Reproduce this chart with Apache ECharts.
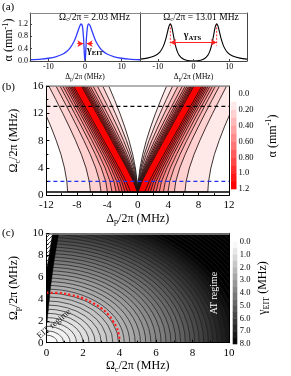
<!DOCTYPE html>
<html>
<head>
<meta charset="utf-8">
<script src="https://cdn.jsdelivr.net/npm/echarts@6/dist/echarts.min.js"></script>
<style>
html,body{margin:0;padding:0;background:#fff;}
#chart{width:291px;height:376px;}
</style>
</head>
<body>
<div id="chart"></div>
<script>
// ---------------- Panel (a) ----------------
const A_X_TICKS = [-10, 0, 10];
const A_Y_TICKS = [0, 0.4, 0.8, 1.2];
const EIT_DELTA = [-15,-12,-10,-8,-6,-5,-4,-3,-2.5,-2,-1.6,-1.3,-1.1,-1.0,-0.8,-0.6,-0.4,-0.3,-0.2,-0.1,0,0.1,0.2,0.3,0.4,0.6,0.8,1.0,1.1,1.3,1.6,2,2.5,3,4,5,6,8,10,12,15];
const EIT_ALPHA = [0.041,0.063,0.089,0.135,0.225,0.305,0.431,0.631,0.771,0.936,1.075,1.162,1.196,1.2,1.165,1.035,0.748,0.533,0.291,0.084,0,0.084,0.291,0.533,0.748,1.035,1.165,1.2,1.196,1.162,1.075,0.936,0.771,0.631,0.431,0.305,0.225,0.135,0.089,0.063,0.041];
const ATS_DELTA = [-15,-13,-11,-9.5,-8.5,-7.8,-7.3,-7.0,-6.8,-6.5,-6.2,-6.0,-5.7,-5.3,-5.0,-4.5,-4.0,-3,-2,-1,0,1,2,3,4,4.5,5,5.3,5.7,6,6.2,6.5,6.8,7,7.3,7.8,8.5,9.5,11,13,15];
const ATS_ALPHA = [0.060,0.092,0.159,0.282,0.464,0.697,0.931,1.074,1.151,1.2,1.143,1.052,0.871,0.626,0.475,0.295,0.184,0.072,0.025,0.006,0.002,0.006,0.025,0.072,0.184,0.295,0.475,0.626,0.871,1.052,1.143,1.2,1.151,1.074,0.931,0.697,0.464,0.282,0.159,0.092,0.060];
const A_TITLES = ['2.03', '13.01'];
const EIT_ARROW = {alpha: 0.56, from: 2.1, to: 0.45};
const ATS_MARK = {delta: 6.5, top: 1.2, bottom: 0.5, arrowAlpha: 0.6};

// ---------------- Panel (b) ----------------
const B_X_TICKS = [-12, -8, -4, 0, 4, 8, 12];
const B_Y_TICKS = [0, 4, 8, 12, 16];
const B_ROWS = [0.5, 2, 4, 6, 8, 10, 12, 14, 16];          // Omega_c rows
const B_LEVELS = [0.1,0.2,0.3,0.4,0.5,0.6,0.7,0.8,0.9,1.0,1.1];
const B_MAX = 1.2;
// left-half contour positions (Delta_p) on the outer side of the absorption peak
const B_OUTER = [
 [-9.21,-9.31,-9.62,-10.09,-10.70,-11.39,-12.16,-12.98,-13.83],
 [-6.21,-6.36,-6.79,-7.41,-8.16,-8.98,-9.85,-10.76,-11.68],
 [-4.82,-5.00,-5.52,-6.24,-7.07,-7.95,-8.86,-9.80,-10.75],
 [-3.98,-4.20,-4.79,-5.57,-6.44,-7.36,-8.30,-9.25,-10.22],
 [-3.38,-3.63,-4.28,-5.11,-6.01,-6.95,-7.90,-8.87,-9.85],
 [-2.83,-3.12,-3.84,-4.71,-5.64,-6.59,-7.56,-8.54,-9.52],
 [-2.41,-2.74,-3.51,-4.41,-5.36,-6.32,-7.30,-8.28,-9.27],
 [-2.02,-2.40,-3.22,-4.15,-5.11,-6.09,-7.07,-8.06,-9.05],
 [-1.67,-2.10,-2.97,-3.92,-4.89,-5.88,-6.86,-7.86,-8.85],
 [-1.32,-1.80,-2.72,-3.69,-4.67,-5.66,-6.66,-7.65,-8.65],
 [-0.94,-1.50,-2.46,-3.45,-4.44,-5.44,-6.43,-7.43,-8.43]
];
// left-half contour positions on the inner side (towards Delta_p = 0)
const B_INNER = [
 [-0.01,-0.08,-0.30,-0.66,-1.13,-1.70,-2.34,-3.05,-3.80],
 [-0.01,-0.10,-0.41,-0.88,-1.48,-2.18,-2.94,-3.75,-4.60],
 [-0.02,-0.14,-0.54,-1.13,-1.85,-2.65,-3.50,-4.39,-5.30],
 [-0.02,-0.19,-0.70,-1.41,-2.22,-3.09,-4.00,-4.93,-5.88],
 [-0.02,-0.24,-0.83,-1.61,-2.47,-3.39,-4.32,-5.28,-6.25],
 [-0.03,-0.28,-0.93,-1.76,-2.66,-3.60,-4.55,-5.52,-6.50],
 [-0.03,-0.32,-1.04,-1.91,-2.84,-3.79,-4.76,-5.74,-6.72],
 [-0.04,-0.37,-1.14,-2.04,-2.99,-3.95,-4.93,-5.91,-6.90],
 [-0.04,-0.42,-1.24,-2.17,-3.13,-4.11,-5.09,-6.08,-7.07],
 [-0.05,-0.48,-1.35,-2.30,-3.27,-4.26,-5.24,-6.24,-7.23],
 [-0.07,-0.55,-1.47,-2.44,-3.42,-4.41,-5.41,-6.40,-7.40]
];
const B_HLINES = [0.5, 2.03, 13.01];
const CB_B_TICKS = [0, 0.2, 0.4, 0.6, 0.8, 1.0, 1.2];
const CB_B_LABELS = ['0.0', '0.20', '0.40', '0.60', '0.80', '1.0', '1.2'];

// ---------------- Panel (c) ----------------
const C_TICKS = [0, 2, 4, 6, 8, 10];
const C_A = [0.6,0.95,1.3,1.65,2.0,2.34,2.67,3.0,3.32,3.64,3.95,4.26,4.56,4.86,5.15,5.44,5.72,6.0,6.28,6.55,6.82,7.09,7.35,7.61,7.87,8.12,8.37,8.62,8.87,9.11,9.35,9.59,9.83,10.06,10.29,10.52,10.75,10.98,11.2,11.42,11.64,11.86,12.08,12.3,12.52,12.74,12.96,13.18,13.4];
const C_B = [0.69,1.09,1.5,1.9,2.3,2.69,3.07,3.45,3.82,4.19,4.54,4.9,5.24,5.59,5.92,6.26,6.58,6.9,7.22,7.53,7.84,8.15,8.45,8.75,9.05,9.34,9.63,9.91,10.2,10.48,10.75,11.03,11.3,11.57,11.83,12.1,12.36,12.63,12.88,13.13,13.39,13.64,13.89,14.15,14.4,14.65,14.9,15.16,15.41];
const C_GAMMA = [0.19,0.34,0.52,0.71,0.91,1.11,1.32,1.53,1.75,1.98,2.19,2.42,2.64,2.87,3.10,3.33,3.55,3.78,4.01,4.24,4.46,4.70,4.92,5.15,5.38,5.60,5.83,6.05,6.29,6.51,6.73,6.95,7.18,7.40,7.62,7.84,8.06,8.28,8.50,8.72,8.94,9.16,9.38,9.60,9.82,10.04,10.26,10.48,10.70];
const C_RED_DOTS = [[0,4.57],[0.6,4.55],[1.35,4.36],[2,4.05],[2.55,3.62],[3,3.15],[3.4,2.55],[3.65,1.95],[3.83,1.45],[3.95,0.85],[4.0,0.35]];
const C_BLACK_BAND = [[0,1.8],[0,6.5],[0.34,10],[0.67,10],[0.42,7.5],[0.22,5],[0.1,3],[0.03,1.8]];
const C_HATCH = [[0,6.5],[0,10],[0.34,10]];
const CB_C_EDGES = [0,0.5,1,1.5,2,2.5,3,3.5,4,4.5,5,5.5,6,6.5,7,7.5,8];
const CB_C_TICKS = [0,1,2,3,4,5,6,7,8];

// ---------------- helpers ----------------
const FONT = '"Liberation Serif", "DejaVu Serif", serif';
function rich(fs, color, weight) {
  color = color || '#000';
  const s = Math.round(fs * 0.68 * 10) / 10;
  const w = weight || 'normal';
  return {
    m: {fontFamily: FONT, fontSize: fs, lineHeight: fs + 3, verticalAlign: 'middle', color, fontWeight: w},
    s: {fontFamily: FONT, fontSize: s, lineHeight: s, verticalAlign: 'bottom', color, fontWeight: w},
    u: {fontFamily: FONT, fontSize: s, lineHeight: s, verticalAlign: 'top', color, fontWeight: w}
  };
}
function bColor(i) {
  const f = (i + 1) / B_LEVELS.length;
  const g = Math.round(255 * (1 - f));
  return 'rgb(255,' + g + ',' + g + ')';
}
function gray(v) {
  const t = Math.min(Math.max(v / 8, 0), 1);
  const g = Math.round(255 * (1 - t));
  return 'rgb(' + g + ',' + g + ',' + g + ')';
}
const lineOf = (c, w) => ({show: true, onZero: false, lineStyle: {color: c, width: w}});
function frame(grid, pos, color, width) {
  return {type: 'value', gridIndex: grid, position: pos, min: 0, max: 1, z: 10,
    axisLine: lineOf(color, width), axisTick: {show: false}, axisLabel: {show: false}, splitLine: {show: false}};
}
function hidden(grid) {
  return {type: 'value', gridIndex: grid, show: false, min: 0, max: 1, splitLine: {show: false}};
}
const labelStyle = (fs, margin) => ({fontFamily: FONT, fontSize: fs, color: '#000', margin});

// hatch pattern
const hc = document.createElement('canvas');
hc.width = 4; hc.height = 4;
const hctx = hc.getContext('2d');
hctx.fillStyle = '#fff'; hctx.fillRect(0, 0, 4, 4);
hctx.strokeStyle = '#000'; hctx.lineWidth = 0.7;
hctx.beginPath();
hctx.moveTo(0, 4); hctx.lineTo(4, 0);
hctx.moveTo(-1, 1); hctx.lineTo(1, -1);
hctx.moveTo(3, 5); hctx.lineTo(5, 3);
hctx.stroke();

const chart = echarts.init(document.getElementById('chart'), null, {renderer: 'canvas'});

const xAxis = [
  {type: 'value', gridIndex: 0, position: 'bottom', min: -15, max: 15, z: 10, axisLine: lineOf('#444', 1), splitLine: {show: false},
   axisTick: {inside: true, length: 2, customValues: A_X_TICKS, lineStyle: {color: '#444'}},
   axisLabel: Object.assign({customValues: A_X_TICKS}, labelStyle(8, 1.5)),
   name: '{m|Δ}{s|p}{m|/2π (MHz)}', nameLocation: 'middle', nameGap: 11, nameTextStyle: {rich: rich(7.5)}},
  frame(0, 'top', '#888', 1),
  {type: 'value', gridIndex: 1, position: 'bottom', min: -15, max: 15, z: 10, axisLine: lineOf('#444', 1), splitLine: {show: false},
   axisTick: {inside: true, length: 2, customValues: A_X_TICKS, lineStyle: {color: '#444'}},
   axisLabel: Object.assign({customValues: A_X_TICKS}, labelStyle(8, 1.5)),
   name: '{m|Δ}{s|p}{m|/2π (MHz)}', nameLocation: 'middle', nameGap: 11, nameTextStyle: {rich: rich(7.5)}},
  frame(1, 'top', '#888', 1),
  {type: 'value', gridIndex: 2, position: 'bottom', min: B_X_TICKS[0], max: B_X_TICKS[B_X_TICKS.length - 1], interval: 4, z: 10,
   axisLine: lineOf('#000', 1), splitLine: {show: false},
   axisTick: {inside: true, length: 3, lineStyle: {color: '#000'}}, minorTick: {show: true, splitNumber: 2, length: 2, lineStyle: {color: '#000'}},
   axisLabel: labelStyle(11, 4),
   name: '{m|Δ}{s|p}{m|/2π (MHz)}', nameLocation: 'middle', nameGap: 16, nameTextStyle: {rich: rich(12)}},
  frame(2, 'top', '#999', 1.5),
  hidden(3),
  {type: 'value', gridIndex: 4, position: 'bottom', min: C_TICKS[0], max: C_TICKS[C_TICKS.length - 1], interval: 2, z: 10,
   axisLine: lineOf('#000', 1), splitLine: {show: false},
   axisTick: {inside: true, length: 3, lineStyle: {color: '#000'}}, minorTick: {show: true, splitNumber: 2, length: 2, lineStyle: {color: '#000'}},
   axisLabel: labelStyle(11, 5),
   name: '{m|Ω}{s|c}{m|/2π (MHz)}', nameLocation: 'middle', nameGap: 16, nameTextStyle: {rich: rich(12)}},
  frame(4, 'top', '#888', 1.5),
  hidden(5)
];

const yAxis = [
  {type: 'value', gridIndex: 0, position: 'left', min: 0, max: 1.55, z: 10, axisLine: lineOf('#444', 1), splitLine: {show: false},
   axisTick: {inside: true, length: 2, customValues: A_Y_TICKS, lineStyle: {color: '#444'}},
   axisLabel: Object.assign({customValues: A_Y_TICKS, formatter: v => v.toFixed(1)}, labelStyle(8, 2))},
  frame(0, 'right', '#444', 1),
  {type: 'value', gridIndex: 1, position: 'left', min: 0, max: 1.55, z: 10, axisLine: lineOf('#444', 1), splitLine: {show: false},
   axisTick: {show: false}, axisLabel: {show: false}},
  frame(1, 'right', '#444', 1),
  {type: 'value', gridIndex: 2, position: 'left', min: B_Y_TICKS[0], max: B_Y_TICKS[B_Y_TICKS.length - 1], interval: 4, z: 10,
   axisLine: lineOf('#000', 1), splitLine: {show: false},
   axisTick: {inside: true, length: 3, lineStyle: {color: '#000'}}, minorTick: {show: true, splitNumber: 2, length: 2, lineStyle: {color: '#000'}},
   axisLabel: labelStyle(11, 3),
   name: '{m|Ω}{s|c}{m|/2π (MHz)}', nameLocation: 'middle', nameGap: 15, nameRotate: 90, nameTextStyle: {rich: rich(12)}},
  frame(2, 'right', '#000', 1),
  {type: 'value', gridIndex: 3, position: 'right', min: 0, max: B_MAX, inverse: true,
   axisLine: {show: false}, axisTick: {show: false}, splitLine: {show: false},
   axisLabel: Object.assign({customValues: CB_B_TICKS, formatter: v => {
     const i = CB_B_TICKS.findIndex(t => Math.abs(t - v) < 1e-6); return i >= 0 ? CB_B_LABELS[i] : ''; }}, labelStyle(8.5, 2))},
  {type: 'value', gridIndex: 4, position: 'left', min: C_TICKS[0], max: C_TICKS[C_TICKS.length - 1], interval: 2, z: 10,
   axisLine: lineOf('#000', 1), splitLine: {show: false},
   axisTick: {inside: true, length: 3, lineStyle: {color: '#000'}}, minorTick: {show: true, splitNumber: 2, length: 2, lineStyle: {color: '#000'}},
   axisLabel: labelStyle(11, 3),
   name: '{m|Ω}{s|p}{m|/2π (MHz)}', nameLocation: 'middle', nameGap: 15, nameRotate: 90, nameTextStyle: {rich: rich(12)}},
  frame(4, 'right', '#000', 1),
  {type: 'value', gridIndex: 5, position: 'right', min: 0, max: 8, inverse: true,
   axisLine: {show: false}, axisTick: {show: false}, splitLine: {show: false},
   axisLabel: Object.assign({customValues: CB_C_TICKS, formatter: v => v.toFixed(1)}, labelStyle(8.5, 2.5))}
];

const grid = [
  {left: 30, top: 13, width: 110, height: 48},
  {left: 140, top: 13, width: 107, height: 48},
  {left: 33.3, top: 86, width: 195.7, height: 109.3},
  {left: 231, top: 94, width: 5.5, height: 95},
  {left: 33.7, top: 233.3, width: 195.3, height: 109.4},
  {left: 232.7, top: 241.7, width: 4.6, height: 102.3}
];

const series = [
  // (a) EIT curve
  {type: 'line', xAxisIndex: 0, yAxisIndex: 0, data: EIT_DELTA.map((d, i) => [d, EIT_ALPHA[i]]),
   symbol: 'none', smooth: 0.3, lineStyle: {color: '#2f3cff', width: 1.3}, z: 3,
   markLine: {silent: true, symbol: ['none', 'arrow'], symbolSize: [5, 6], label: {show: false},
     lineStyle: {color: '#ff2020', width: 1, type: 'solid'},
     data: [
       [{coord: [-EIT_ARROW.from, EIT_ARROW.alpha]}, {coord: [-EIT_ARROW.to, EIT_ARROW.alpha]}],
       [{coord: [EIT_ARROW.from, EIT_ARROW.alpha]}, {coord: [EIT_ARROW.to, EIT_ARROW.alpha]}]
     ]}},
  // (a) ATS curve
  {type: 'line', xAxisIndex: 2, yAxisIndex: 2, data: ATS_DELTA.map((d, i) => [d, ATS_ALPHA[i]]),
   symbol: 'none', smooth: 0.3, lineStyle: {color: '#000', width: 1.1}, z: 3,
   markLine: {silent: true, symbol: ['arrow', 'arrow'], symbolSize: [5, 6], label: {show: false},
     lineStyle: {color: '#ff2020', width: 1, type: 'solid'},
     data: [[{coord: [-ATS_MARK.delta, ATS_MARK.arrowAlpha]}, {coord: [ATS_MARK.delta, ATS_MARK.arrowAlpha]}]]}},
  {type: 'line', xAxisIndex: 2, yAxisIndex: 2, symbol: 'none', z: 2,
   data: [[-ATS_MARK.delta, ATS_MARK.top], [-ATS_MARK.delta, ATS_MARK.bottom]],
   lineStyle: {color: '#ff3030', width: 1, type: [2, 1.5]}},
  {type: 'line', xAxisIndex: 2, yAxisIndex: 2, symbol: 'none', z: 2,
   data: [[ATS_MARK.delta, ATS_MARK.top], [ATS_MARK.delta, ATS_MARK.bottom]],
   lineStyle: {color: '#ff3030', width: 1, type: [2, 1.5]}},
  // (b) filled contours
  {type: 'custom', xAxisIndex: 4, yAxisIndex: 4, clip: true, z: 2,
   data: B_LEVELS.flatMap((L, i) => [[i, 0], [i, 1]]),
   renderItem: function (params, api) {
     const idx = params.dataIndex, lv = Math.floor(idx / 2), mirror = idx % 2 === 1;
     const pts = [];
     for (let r = 0; r < B_ROWS.length; r++) {
       const v = B_OUTER[lv][r]; pts.push(api.coord([mirror ? -v : v, B_ROWS[r]]));
     }
     for (let r = B_ROWS.length - 1; r >= 0; r--) {
       const v = B_INNER[lv][r]; pts.push(api.coord([mirror ? -v : v, B_ROWS[r]]));
     }
     return {type: 'polygon', z2: lv, shape: {points: pts},
       style: {fill: bColor(lv), stroke: '#1c1010', lineWidth: 0.85}};
   }},
  {type: 'line', xAxisIndex: 4, yAxisIndex: 4, symbol: 'none', z: 4,
   data: [[-12, B_HLINES[0]], [12, B_HLINES[0]]], lineStyle: {color: '#000', width: 1.5}},
  {type: 'line', xAxisIndex: 4, yAxisIndex: 4, symbol: 'none', z: 4,
   data: [[-12, B_HLINES[1]], [12, B_HLINES[1]]], lineStyle: {color: '#2233ee', width: 1.2, type: [4, 3]}},
  {type: 'line', xAxisIndex: 4, yAxisIndex: 4, symbol: 'none', z: 4,
   data: [[-12, B_HLINES[2]], [12, B_HLINES[2]]], lineStyle: {color: '#000', width: 1.2, type: [4, 3]}},
  // (b) colorbar
  {type: 'custom', xAxisIndex: 6, yAxisIndex: 6,
   data: B_LEVELS.map((L, i) => [i, L]),
   renderItem: function (params, api) {
     const i = params.dataIndex, L = B_LEVELS[i];
     const hi = i + 1 < B_LEVELS.length ? B_LEVELS[i + 1] : B_MAX;
     const p0 = api.coord([0, L]), p1 = api.coord([1, hi]);
     return {type: 'rect', shape: {x: p0[0], y: p0[1], width: p1[0] - p0[0], height: p1[1] - p0[1] + 0.3},
       style: {fill: bColor(i)}};
   }},
  // (c) filled elliptical contours
  {type: 'custom', xAxisIndex: 7, yAxisIndex: 7, clip: true, z: 2,
   data: C_A.map((a, i) => [a, C_B[i]]),
   renderItem: function (params, api) {
     const n = C_A.length, i = n - 1 - params.dataIndex;
     const o = api.coord([0, 0]), ax = api.coord([C_A[i], 0]), by = api.coord([0, C_B[i]]);
     const rx = ax[0] - o[0], ry = o[1] - by[1];
     const g = i === 0 ? C_GAMMA[0] / 2 : (C_GAMMA[i - 1] + C_GAMMA[i]) / 2;
     const top = (o[1] - ry), right = (o[0] + rx);
     return {type: 'group', children: [
       {type: 'path', z2: params.dataIndex * 2,
        shape: {pathData: 'M' + o[0] + ' ' + o[1] + 'L' + o[0] + ' ' + top + 'A' + rx + ' ' + ry + ' 0 0 1 ' + right + ' ' + o[1] + 'Z'},
        style: {fill: gray(g), stroke: 'none'}},
       {type: 'path', z2: params.dataIndex * 2 + 1,
        shape: {pathData: 'M' + o[0] + ' ' + top + 'A' + rx + ' ' + ry + ' 0 0 1 ' + right + ' ' + o[1]},
        style: {fill: 'none', stroke: '#1c1c1c', lineWidth: 0.7}}
     ]};
   }},
  // (c) black band + hatched region
  {type: 'custom', xAxisIndex: 7, yAxisIndex: 7, clip: true, z: 3,
   data: [[0, 0], [0, 1]],
   renderItem: function (params, api) {
     if (params.dataIndex === 0) {
       return {type: 'polygon', shape: {points: C_BLACK_BAND.map(p => api.coord(p))}, style: {fill: '#000', stroke: '#000', lineWidth: 0.5}};
     }
     return {type: 'polygon', shape: {points: C_HATCH.map(p => api.coord(p))},
       style: {fill: {image: hc, repeat: 'repeat'}, stroke: '#000', lineWidth: 0.5}};
   }},
  {type: 'line', xAxisIndex: 7, yAxisIndex: 7, symbol: 'none', smooth: true, z: 4,
   data: C_RED_DOTS, lineStyle: {color: '#ff2020', width: 2.2, type: [2.2, 2.2]}},
  // (c) colorbar
  {type: 'custom', xAxisIndex: 9, yAxisIndex: 9,
   data: CB_C_EDGES.slice(0, -1).map((e, i) => [i, e]),
   renderItem: function (params, api) {
     const i = params.dataIndex, lo = CB_C_EDGES[i], hi = CB_C_EDGES[i + 1];
     const p0 = api.coord([0, lo]), p1 = api.coord([1, hi]);
     return {type: 'rect', shape: {x: p0[0], y: p0[1], width: p1[0] - p0[0], height: p1[1] - p0[1] + 0.3},
       style: {fill: gray((lo + hi) / 2)}};
   }}
];

function txt(x, y, text, opts) {
  opts = opts || {};
  return {type: 'text', x, y, rotation: opts.rot || 0, silent: true, z: 50,
    style: {text, rich: opts.rich, fontFamily: FONT, fontSize: opts.fs || 11, fill: opts.color || '#000',
      fontWeight: opts.weight || 'normal',
      align: opts.align || 'center', textAlign: opts.align || 'center',
      verticalAlign: 'middle', textVerticalAlign: 'middle'}};
}

const graphic = [
  txt(2, 7, '(a)', {align: 'left', fs: 11}),
  txt(2, 87, '(b)', {align: 'left', fs: 11}),
  txt(2, 233, '(c)', {align: 'left', fs: 11}),
  txt(94.5, 17, '{m|Ω}{s|c}{m|/2π = ' + A_TITLES[0] + ' MHz}', {rich: rich(9.5)}),
  txt(201, 17, '{m|Ω}{s|c}{m|/2π = ' + A_TITLES[1] + ' MHz}', {rich: rich(9.5)}),
  txt(9, 40, '{m|α (mm}{u|-1}{m|)}', {rich: rich(12), rot: Math.PI / 2}),
  txt(87, 50, '{m|γ}{s|EIT}', {rich: rich(10, '#2f3cff', 'bold'), align: 'left'}),
  txt(192.5, 35, '{m|γ}{s|ATS}', {rich: rich(10, '#000', 'bold')}),
  txt(272.5, 136, '{m|α (mm}{u|-1}{m|)}', {rich: rich(12), rot: Math.PI / 2}),
  txt(263, 288, '{m|γ}{s|EIT}{m| (MHz)}', {rich: rich(12), rot: Math.PI / 2}),
  txt(54, 324, 'EIT regime', {fs: 9, color: '#222', rot: 40 * Math.PI / 180}),
  txt(214.5, 293, 'AT regime', {fs: 10, color: '#fff', rot: Math.PI / 2})
];

chart.setOption({
  animation: false,
  backgroundColor: '#fff',
  textStyle: {fontFamily: FONT},
  grid, xAxis, yAxis, series, graphic
});
</script>
</body>
</html>
